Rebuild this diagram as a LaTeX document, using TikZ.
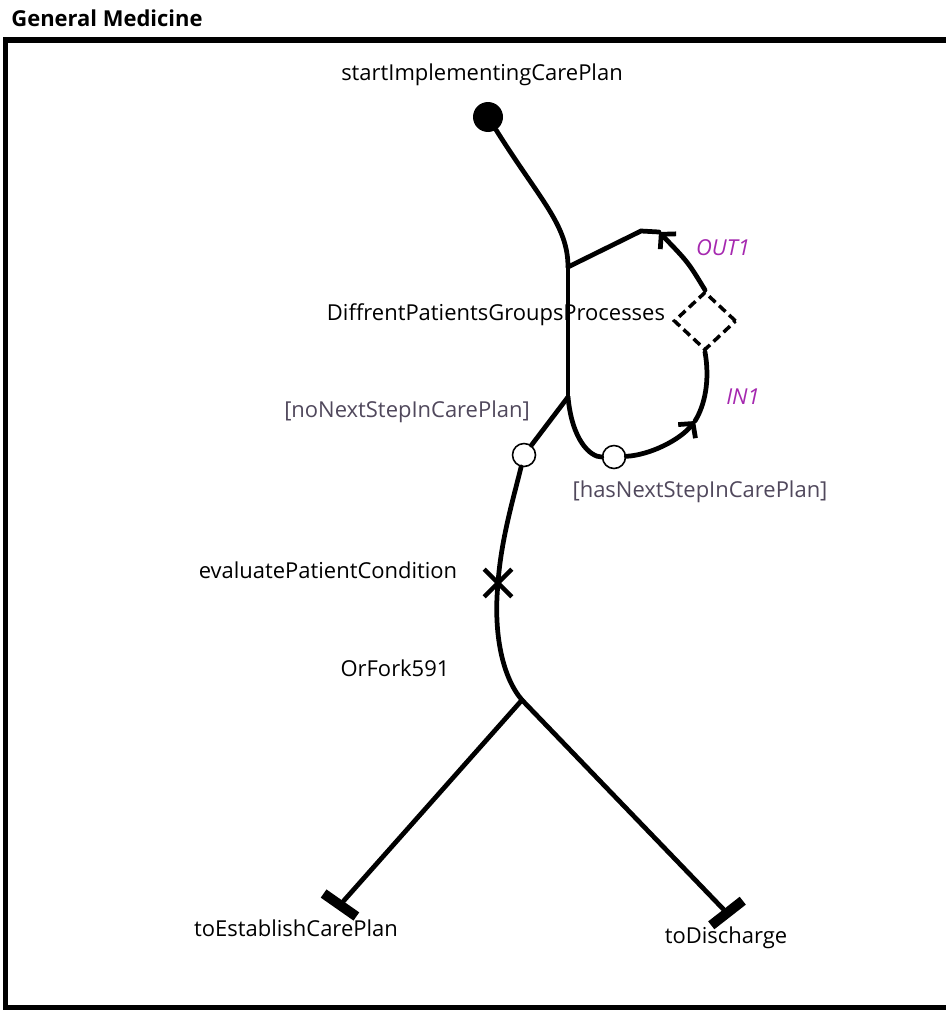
\documentclass[tikz,border=0pt]{standalone}
\usepackage{fontspec}
\setmainfont{Open Sans}
\usetikzlibrary{shapes.geometric, shapes.misc, arrows.meta}

\definecolor{portpurple}{RGB}{165,40,175}
\definecolor{guardgray}{RGB}{80,72,92}

\begin{document}
\begin{tikzpicture}[x=0.02cm, y=-0.02cm, font=\fontsize{12.5}{15}\selectfont,
          >={Straight Barb[length=0.2cm, width=0.44cm]},
          flow/.style={line width=2.7pt, line cap=round},
          startp/.style={circle, fill=black, minimum size=0.6cm, inner sep=0pt},
          guardp/.style={circle, draw=black, fill=white, line width=0.9pt, minimum size=0.46cm, inner sep=0pt},
          stubp/.style={diamond, draw=black, fill=white, line width=2pt, dash pattern=on 5pt off 2.8pt,
                        minimum width=1.25cm, minimum height=1.17cm, inner sep=0pt},
          waitp/.style={cross out, draw=black, line width=2.6pt, minimum size=0.46cm, inner sep=0pt},
          endp/.style={rectangle, fill=black, minimum width=0.8cm, minimum height=0.2cm, inner sep=0pt},
          lbl/.style={inner sep=0pt},
          portlbl/.style={lbl, text=portpurple, font=\fontsize{12.5}{15}\selectfont\itshape},
          guardlbl/.style={lbl, text=guardgray}]
        \useasboundingbox (0,0) rectangle (946,1011);
        % map frame, right side runs off the page
        \node[lbl, font=\fontsize{12.5}{15}\selectfont\bfseries] (title) at (107,18) {General Medicine};
        \draw[line width=3.2pt] (946,40) -- (5.5,40) -- (5.5,1007.5) -- (946,1007.5);
        \coordinate (j1) at (568,267);
        \coordinate (j2) at (568,397);
        \coordinate (bend) at (641,231);
        \coordinate (a1) at (659,232);
        \coordinate (a2) at (695,421);
        \coordinate (orfork) at (522,700);
        \node[startp] (start) at (488,117) {};
        \node[stubp] (stub) at (705,321) {};
        \node[guardp] (noNext) at (524,455) {};
        \node[guardp] (hasNext) at (614,457) {};
        \node[waitp] (evaluate) at (498,583) {};
        \node[endp, rotate=-35] (toEstablish) at (340,905) {};
        \node[endp, rotate=38] (toDischarge) at (727,913) {};
        % path segments
        \draw[flow] (start) .. controls (540,200) and (568,225) .. (j1);
        \draw[flow] (j1) -- (j2);
        \draw[flow] (j1) -- (bend) -- (a1);
        \draw[flow, ->] (stub.north) .. controls (688,262) .. (a1);
        \draw[flow] (j2) .. controls (572,440) and (590,457) .. (hasNext);
        \draw[flow, ->] (hasNext) .. controls (650,455) and (680,440) .. (a2);
        \draw[flow] (a2) .. controls (705,405) and (710,380) .. (stub.south);
        \draw[flow] (j2) -- (noNext);
        \draw[flow] (noNext) .. controls (513,500) and (501,540) .. (evaluate.center);
        \draw[flow] (evaluate.center) .. controls (493,635) and (503,678) .. (orfork);
        \draw[flow] (orfork) -- (toEstablish);
        \draw[flow] (orfork) -- (toDischarge);
        % labels
        \node[lbl] (startLbl) at (482,75) {startImplementingCarePlan};
        \node[lbl] (stubLbl) at (496,315) {DiffrentPatientsGroupsProcesses};
        \node[portlbl] (outLbl) at (723,248) {OUT1};
        \node[portlbl] (inLbl) at (743,397) {IN1};
        \node[guardlbl] (noNextLbl) at (407,412) {[noNextStepInCarePlan]};
        \node[guardlbl] (hasNextLbl) at (700,492) {[hasNextStepInCarePlan]};
        \node[lbl] (evaluateLbl) at (328,570) {evaluatePatientCondition};
        \node[lbl] (orforkLbl) at (395,668) {OrFork591};
        \node[lbl] (toEstablishLbl) at (296,928) {toEstablishCarePlan};
        \node[lbl] (toDischargeLbl) at (726,938) {toDischarge};
      \end{tikzpicture}
\end{document}
